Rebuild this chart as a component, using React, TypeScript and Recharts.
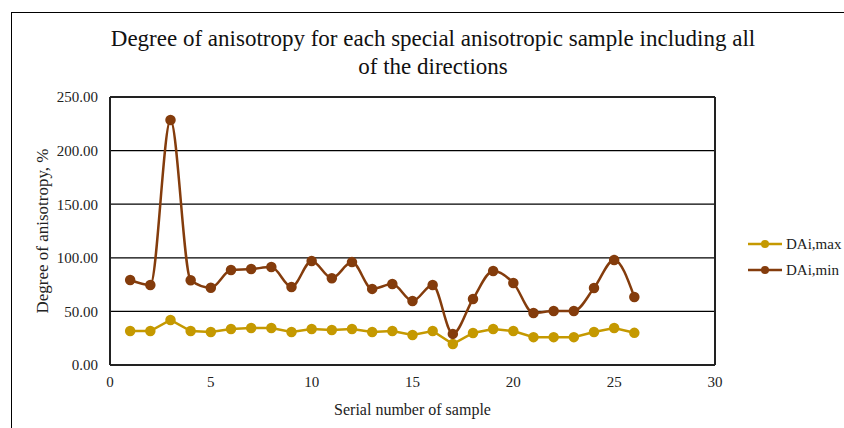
import { LineChart, Line, XAxis, YAxis, CartesianGrid, ReferenceLine, Label } from 'recharts'

const samples = [1, 2, 3, 4, 5, 6, 7, 8, 9, 10, 11, 12, 13, 14, 15, 16, 17, 18, 19, 20, 21, 22, 23, 24, 25, 26]
const daiMax = [31.7, 31.7, 42, 31.7, 30.8, 33.6, 34.5, 34.5, 30.8, 33.6, 32.6, 33.6, 30.8, 31.7, 28, 31.7, 19.6, 29.9, 33.6, 31.7, 26, 26, 26, 30.8, 34.5, 30]
const daiMin = [79.3, 74.6, 228.5, 79, 72, 88.6, 89.5, 91.4, 72.8, 97, 81, 96, 71, 75.5, 59.7, 74.6, 29, 61.6, 87.7, 76.5, 48.5, 50.4, 50.4, 71.8, 98, 63.4]
const xTicks = [0, 5, 10, 15, 20, 25, 30]
const yTicks = [0, 50, 100, 150, 200, 250]

const MAX_COLOR = '#c59900'
const MIN_COLOR = '#843c0c'
const FONT = '"Liberation Serif", "Times New Roman", serif'

const data = samples.map((s, i) => ({ n: s, max: daiMax[i], min: daiMin[i] }))

function LegendItem({ color, label }: { color: string; label: string }) {
  return (
    <div style={{ display: 'flex', alignItems: 'center', height: 26 }}>
      <svg width={34} height={10}>
        <line x1={0} y1={5} x2={34} y2={5} stroke={color} strokeWidth={2.5} />
        <circle cx={17} cy={5} r={4} fill={color} />
      </svg>
      <span style={{ marginLeft: 4, fontSize: 15, color: '#222' }}>{label}</span>
    </div>
  )
}

export default function App() {
  const tick = { fontSize: 15, fill: '#222', fontFamily: FONT }
  return (
    <div style={{ position: 'fixed', left: 0, top: 0, width: 844, height: 428, overflow: 'hidden', background: '#fff', fontFamily: FONT }}>
      <div style={{ position: 'absolute', left: 11, top: 12, width: 900, height: 500, border: '1.5px solid #000' }} />
      <div style={{ position: 'absolute', left: 0, top: 25, width: 866, textAlign: 'center', fontSize: 23, lineHeight: '28px', color: '#111' }}>
        Degree of anisotropy for each special anisotropic sample including all
        <br />
        of the directions
      </div>
      <div style={{ position: 'absolute', left: 0, top: 0 }}>
        <LineChart width={844} height={428} data={data} margin={{ top: 97, right: 129, left: 10, bottom: 0 }}>
          <CartesianGrid horizontal vertical={false} stroke="#000" strokeWidth={1.2} />
          <XAxis
            dataKey="n"
            type="number"
            domain={[0, 30]}
            ticks={xTicks}
            tick={tick}
            tickLine={false}
            tickSize={0}
            tickMargin={11}
            height={63}
            axisLine={{ stroke: '#222', strokeWidth: 2 }}
          >
            <Label value="Serial number of sample" position="insideBottom" offset={13} style={{ fontSize: 16, fill: '#222', fontFamily: FONT }} />
          </XAxis>
          <YAxis
            type="number"
            domain={[0, 250]}
            ticks={yTicks}
            tick={tick}
            tickFormatter={(v: number) => v.toFixed(2)}
            tickLine={false}
            tickSize={0}
            tickMargin={12}
            width={100}
            axisLine={{ stroke: '#222', strokeWidth: 2 }}
          >
            <Label value="Degree of anisotropy, %" angle={-90} position="insideLeft" offset={32} style={{ fontSize: 17, fill: '#222', fontFamily: FONT, textAnchor: 'middle' }} />
          </YAxis>
          <ReferenceLine x={30} stroke="#222" strokeWidth={2} />
          <ReferenceLine y={250} stroke="#222" strokeWidth={2} />
          <Line
            dataKey="max"
            type="linear"
            stroke={MAX_COLOR}
            strokeWidth={2.5}
            dot={{ r: 4, fill: MAX_COLOR, stroke: MAX_COLOR }}
            isAnimationActive={false}
          />
          <Line
            dataKey="min"
            type="monotone"
            stroke={MIN_COLOR}
            strokeWidth={2.5}
            dot={{ r: 4, fill: MIN_COLOR, stroke: MIN_COLOR }}
            isAnimationActive={false}
          />
        </LineChart>
      </div>
      <div style={{ position: 'absolute', left: 748, top: 231 }}>
        <LegendItem color={MAX_COLOR} label="DAi,max" />
        <LegendItem color={MIN_COLOR} label="DAi,min" />
      </div>
    </div>
  )
}
